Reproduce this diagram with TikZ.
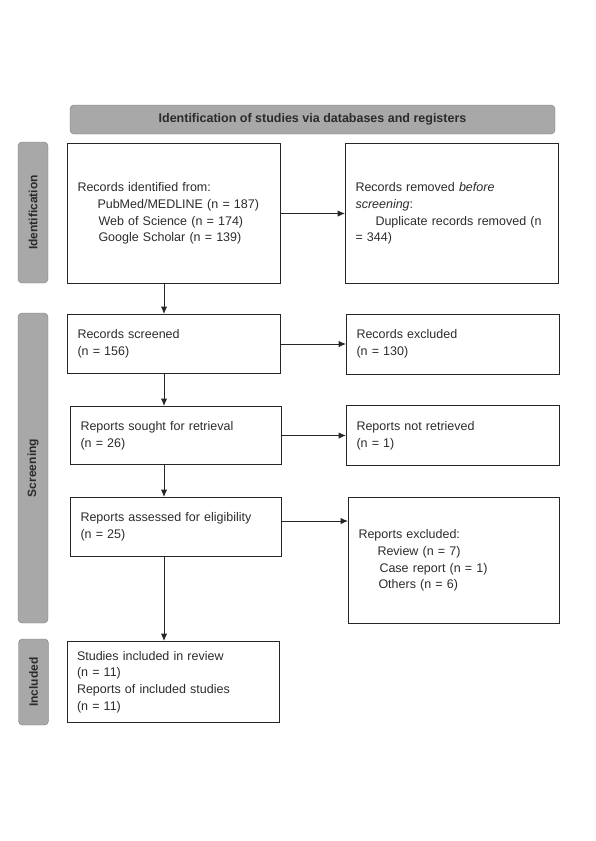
\documentclass[tikz,border=0pt]{standalone}
\usepackage{fontspec}
\setmainfont{Liberation Sans}
\usepackage{tikz}
\usetikzlibrary{shapes,arrows.meta,positioning}
\usepackage{xcolor}
\definecolor{bargray}{HTML}{A8A8A8}
\definecolor{bardraw}{HTML}{7A7A7A}
\definecolor{inktext}{HTML}{2B2B2B}
\definecolor{boxline}{HTML}{262626}

\begin{document}
\begin{tikzpicture}[
    x=1pt, y=-1pt,
    box/.style={draw=boxline, line width=1pt, rectangle, minimum width=213pt, text width=193pt, inner xsep=10pt, align=left, text=inktext, font=\fontsize{12.5}{16.6}\selectfont},
    phase/.style={draw=bardraw, fill=bargray, rounded corners=4pt, minimum height=30pt, rotate=90, text=inktext, font=\fontsize{12}{14}\selectfont\bfseries},
    line/.style={draw=boxline, -{Latex[length=7.5pt,width=6.5pt]}, line width=1pt}
]
    \useasboundingbox (0,0) rectangle (595,841);

    \node [draw=bardraw, fill=bargray, rounded corners=4pt, minimum width=485pt, minimum height=29pt, text=inktext, font=\fontsize{12.5}{14}\selectfont\bfseries] (title) at (312.5,119.5) {Identification of studies via databases and registers};

    \node [phase, minimum width=141pt] (phid) at (33,212.5) {Identification};
    \node [phase, minimum width=310pt] (phscr) at (33,468) {Screening};
    \node [phase, minimum width=86pt] (phinc) at (33.5,682) {Included};

    \node [box, minimum height=140pt, anchor=north west] (ident) at (67,143) {Records identified from:\\\hspace*{20pt}PubMed/MEDLINE (n = 187)\\\hspace*{21pt}Web of Science (n = 174)\\\hspace*{21pt}Google Scholar (n = 139)};
    \node [box, minimum height=140pt, right=64pt of ident] (removed) {Records removed \textit{before}\\\textit{screening}:\\\hspace*{20pt}Duplicate records removed (n\\= 344)};

    \node [box, minimum height=59pt, below=30pt of ident] (screened) {Records screened\\(n = 156)};
    \node [box, minimum height=60pt, right=65pt of screened] (excluded) {Records excluded\\(n = 130)};

    \node [box, minimum width=211pt, text width=191pt, minimum height=58pt, below=32pt of screened, xshift=2pt] (sought) {Reports sought for retrieval\\(n = 26)};
    \node [box, minimum height=60pt, right=64pt of sought] (notret) {Reports not retrieved\\(n = 1)};

    \node [box, minimum width=211pt, text width=191pt, minimum height=59pt, below=32pt of sought] (assessed) {Reports assessed for eligibility\\(n = 25)};
    \node [box, minimum width=211pt, text width=191pt, minimum height=126pt, right=66pt of assessed.north east, anchor=north west] (repexcl) {Reports excluded:\\\hspace*{19pt}Review (n = 7)\\\hspace*{21pt}Case report (n = 1)\\\hspace*{20pt}Others (n = 6)};

    \node [box, minimum width=212pt, text width=192pt, minimum height=81pt, below=84pt of assessed, xshift=-3pt] (included) {Studies included in review\\(n = 11)\\Reports of included studies\\(n = 11)};

    \coordinate (spine) at (164,0);
    \path [line] (ident.south -| spine) -- (screened.north -| spine);
    \path [line] (screened.south -| spine) -- (sought.north -| spine);
    \path [line] (sought.south -| spine) -- (assessed.north -| spine);
    \path [line] (assessed.south -| spine) -- (included.north -| spine);

    \path [line] (ident.east) -- (removed.west);
    \path [line] (screened.east) -- (excluded.west);
    \path [line] (sought.east) -- (sought.east -| notret.west);
    \path [line] ([yshift=6pt]assessed.east) -- ([yshift=6pt]assessed.east -| repexcl.west);
\end{tikzpicture}
\end{document}
